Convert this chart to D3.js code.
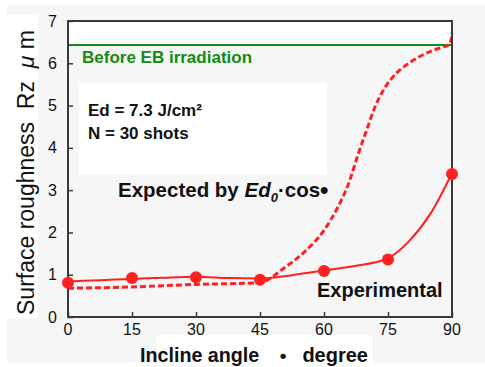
<!DOCTYPE html>
<html>
<head>
<meta charset="utf-8">
<script src="https://cdn.jsdelivr.net/npm/d3@7"></script>
<style>
  body { margin: 0; background: #fff; }
  text { font-family: "Liberation Sans", Arial, sans-serif; }
</style>
</head>
<body>
<div class="chart"></div>
<script>
// measured points
var angles = [0, 15, 30, 45, 60, 75, 90];
var experimental = [0.81, 0.92, 0.94, 0.88, 1.09, 1.36, 3.38];

// solid fitted curve through the experiment
var fitAngles = [0, 7.5, 15, 22.5, 30, 37.5, 45, 52.5, 60, 67.5, 75, 80, 85, 90];
var fitValues = [0.84, 0.87, 0.90, 0.93, 0.95, 0.92, 0.91, 0.99, 1.10, 1.21, 1.39, 1.80, 2.45, 3.40];

// dashed curve, expected by Ed0*cos
var expAngles = [0, 15, 30, 45, 47.5, 50, 55, 60, 63, 66, 68, 70, 72, 74, 76, 78, 80, 83, 86, 88, 89.5, 90];
var expValues = [0.68, 0.71, 0.77, 0.81, 0.92, 1.11, 1.50, 2.05, 2.55, 3.22, 3.85, 4.42, 4.98, 5.38, 5.66, 5.86, 6.01, 6.19, 6.32, 6.39, 6.45, 6.72];

var beforeValue = 6.43;
var xTicks = [0, 15, 30, 45, 60, 75, 90];
var yTicks = [0, 1, 2, 3, 4, 5, 6, 7];

var W = 485, H = 367;
var pL = 68, pR = 452, pT = 21, pB = 317;
var red = "#ff2121", green = "#138a13", axisColor = "#3a3a3a";

var svg = d3.select(".chart").append("svg")
    .attr("width", W).attr("height", H);

// slide background pieces
svg.append("rect").attr("x", 7).attr("y", 5).attr("width", W - 7).attr("height", 358).attr("fill", "#f6f6f6");
svg.append("rect").attr("x", 7).attr("y", 15).attr("width", 31).attr("height", 303).attr("fill", "#fff");
svg.append("rect").attr("x", 157).attr("y", 335).attr("width", 215).attr("height", 32).attr("fill", "#fff");

var x = d3.scaleLinear().domain([0, 90]).range([pL, pR]);
var y = d3.scaleLinear().domain([0, 7]).range([pB, pT]);

// white band above the "before" line and the condition box
svg.append("rect").attr("x", pL).attr("y", pT).attr("width", pR - pL).attr("height", y(beforeValue) - pT).attr("fill", "#fff");
svg.append("rect").attr("x", 79).attr("y", 83).attr("width", 248).attr("height", 92).attr("fill", "#fff");

// axes with inward ticks
var xAxis = svg.append("g").attr("transform", "translate(0," + pB + ")")
    .call(d3.axisTop(x).tickValues(xTicks).tickSize(5).tickFormat(""));
var yAxis = svg.append("g").attr("transform", "translate(" + pL + ",0)")
    .call(d3.axisRight(y).tickValues(yTicks).tickSize(5).tickFormat(""));
[xAxis, yAxis].forEach(function (g) {
  g.select(".domain").remove();
  g.selectAll("line").attr("stroke", axisColor).attr("stroke-width", 1.5);
});

svg.selectAll(".xlab").data(xTicks).enter().append("text")
    .attr("x", function (d) { return x(d); })
    .attr("y", 335)
    .attr("text-anchor", "middle")
    .attr("font-size", 16)
    .attr("fill", "#111")
    .text(function (d) { return d; });

svg.selectAll(".ylab").data(yTicks).enter().append("text")
    .attr("x", 57)
    .attr("y", function (d) { return y(d) + 5.5; })
    .attr("text-anchor", "end")
    .attr("font-size", 16)
    .attr("fill", "#111")
    .text(function (d) { return d; });

// green reference line
svg.append("line")
    .attr("x1", x(0)).attr("x2", x(90))
    .attr("y1", y(beforeValue)).attr("y2", y(beforeValue))
    .attr("stroke", green).attr("stroke-width", 2);

var line = d3.line()
    .x(function (d) { return x(d[0]); })
    .y(function (d) { return y(d[1]); })
    .curve(d3.curveMonotoneX);

svg.append("path")
    .datum(d3.zip(expAngles, expValues))
    .attr("d", line)
    .attr("fill", "none")
    .attr("stroke", red)
    .attr("stroke-width", 3)
    .attr("stroke-dasharray", "6,3");

svg.append("path")
    .datum(d3.zip(fitAngles, fitValues))
    .attr("d", line)
    .attr("fill", "none")
    .attr("stroke", red)
    .attr("stroke-width", 2);

// frame
svg.append("rect")
    .attr("x", pL).attr("y", pT)
    .attr("width", pR - pL).attr("height", pB - pT)
    .attr("fill", "none").attr("stroke", axisColor).attr("stroke-width", 2);

svg.selectAll("circle").data(d3.zip(angles, experimental)).enter().append("circle")
    .attr("cx", function (d) { return x(d[0]); })
    .attr("cy", function (d) { return y(d[1]); })
    .attr("r", 6)
    .attr("fill", red);

// annotations
svg.append("text").attr("x", 82).attr("y", 63)
    .attr("font-size", 17).attr("font-weight", "bold").attr("fill", green)
    .text("Before EB irradiation");

svg.append("text").attr("x", 88).attr("y", 116)
    .attr("font-size", 17).attr("font-weight", "bold").attr("fill", "#111")
    .text("Ed = 7.3 J/cm²");
svg.append("text").attr("x", 88).attr("y", 139)
    .attr("font-size", 17).attr("font-weight", "bold").attr("fill", "#111")
    .text("N = 30 shots");

var exp = svg.append("text").attr("x", 118).attr("y", 197)
    .attr("font-size", 20.5).attr("font-weight", "bold").attr("fill", "#111");
exp.append("tspan").text("Expected by ");
exp.append("tspan").attr("font-style", "italic").text("Ed");
exp.append("tspan").attr("font-style", "italic").attr("font-size", 13).attr("dy", 5).text("0");
exp.append("tspan").attr("dy", -5).text("·cos");
exp.append("tspan").attr("font-size", 24).attr("dy", 1).text("•");

svg.append("text").attr("x", 317).attr("y", 297)
    .attr("font-size", 20).attr("font-weight", "bold").attr("fill", "#111")
    .text("Experimental");

// axis titles
svg.append("text").attr("x", 140).attr("y", 362)
    .attr("font-size", 19.7).attr("font-weight", "bold").attr("fill", "#111")
    .text("Incline angle");
svg.append("text").attr("x", 283).attr("y", 362)
    .attr("text-anchor", "middle")
    .attr("font-size", 19).attr("font-weight", "bold").attr("fill", "#111")
    .text("•");
svg.append("text").attr("x", 368).attr("y", 362)
    .attr("text-anchor", "end")
    .attr("font-size", 20).attr("font-weight", "bold").attr("fill", "#111")
    .text("degree");

var yt = svg.append("text")
    .attr("transform", "translate(34,315) rotate(-90)")
    .attr("font-size", 23).attr("fill", "#111")
    .attr("xml:space", "preserve");
yt.append("tspan").text("Surface roughness  Rz  ");
yt.append("tspan").attr("font-style", "italic").text("μ");
yt.append("tspan").text(" m");
</script>
</body>
</html>
